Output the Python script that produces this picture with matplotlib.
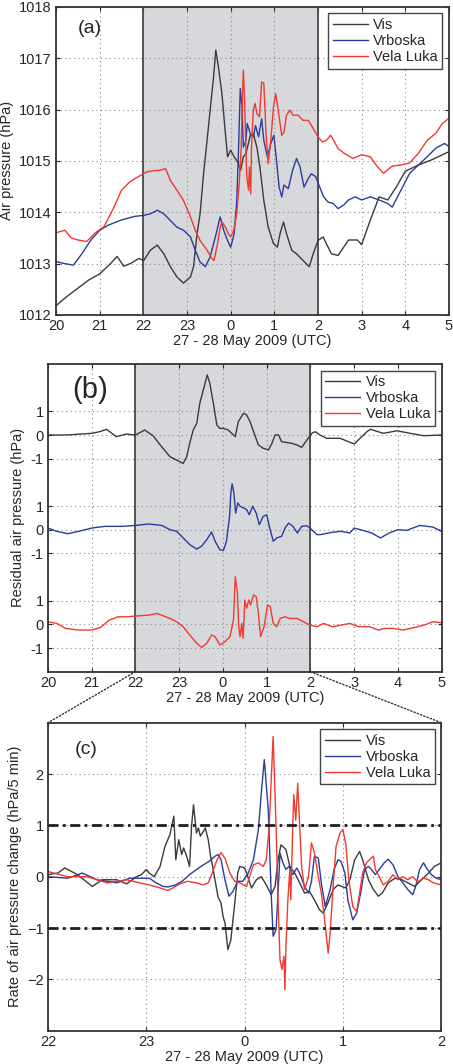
#Presion atmosferica Vis / Vrboska / Vela Luka, 27-28 mayo 2009
import numpy as np
import matplotlib
matplotlib.use('Agg')
import matplotlib.pyplot as plt
from matplotlib.patches import ConnectionPatch

plt.rcParams['font.family'] = ['Liberation Sans', 'DejaVu Sans']
plt.rcParams['font.size'] = 10.5
plt.rcParams['text.color'] = '#262626'
plt.rcParams['axes.labelcolor'] = '#262626'
plt.rcParams['xtick.color'] = '#262626'
plt.rcParams['ytick.color'] = '#262626'

# horas desde las 20 UTC del 27 (24 = 0 UTC del 28)
hour_ticks = [20, 21, 22, 23, 24, 25, 26, 27, 28, 29]
hour_labels = ['20', '21', '22', '23', '0', '1', '2', '3', '4', '5']
zoom_ticks = [22, 23, 24, 25, 26]
zoom_labels = ['22', '23', '0', '1', '2']
stations = ['Vis', 'Vrboska', 'Vela Luka']
colors = ['#3a3a3a', '#2a3c9c', '#f2392f']

# (a) presion (hPa)
vis_a_t = [20.0, 20.25, 20.5, 20.75, 21.0, 21.25, 21.4, 21.55, 21.7, 21.9,
           22.01, 22.16, 22.32, 22.47, 22.62, 22.77, 22.92, 23.08, 23.15, 23.23,
           23.30, 23.34, 23.38, 23.46, 23.53, 23.61, 23.66, 23.72, 23.80, 23.88,
           23.93, 24.0, 24.08, 24.16, 24.23, 24.29, 24.35, 24.45, 24.52, 24.60,
           24.67, 24.76, 24.86, 24.98, 25.07, 25.13, 25.21, 25.28, 25.40, 25.51,
           25.66, 25.80, 25.89, 26.0, 26.12, 26.19, 26.31, 26.46, 26.7, 26.9,
           27.0, 27.2, 27.4, 27.6, 27.8, 28.0, 28.3, 28.6, 29.0]
vis_a = [1012.18, 1012.36, 1012.52, 1012.68, 1012.80, 1013.00, 1013.14, 1012.95, 1013.00, 1013.10,
         1013.06, 1013.26, 1013.36, 1013.19, 1012.94, 1012.74, 1012.62, 1012.74, 1012.94, 1013.58,
         1013.97, 1014.36, 1014.75, 1015.40, 1015.99, 1016.64, 1017.16, 1016.83, 1016.31, 1015.53,
         1015.08, 1015.21, 1015.08, 1014.98, 1014.82, 1015.08, 1015.14, 1015.50, 1015.53, 1015.27,
         1014.88, 1014.23, 1013.71, 1013.39, 1013.32, 1013.58, 1013.81, 1013.58, 1013.26, 1013.19,
         1013.06, 1012.94, 1013.19, 1013.45, 1013.52, 1013.39, 1013.19, 1013.16, 1013.46, 1013.46,
         1013.37, 1013.85, 1014.30, 1014.24, 1014.50, 1014.80, 1014.92, 1015.02, 1015.18]

vrb_a_t = [20.0, 20.2, 20.4, 20.6, 20.8, 21.0, 21.2, 21.5, 21.8,
           22.01, 22.16, 22.32, 22.47, 22.62, 22.77, 22.92, 23.08, 23.19, 23.30,
           23.42, 23.53, 23.65, 23.76, 23.84, 23.93, 24.0, 24.08, 24.14, 24.18,
           24.22, 24.26, 24.29, 24.35, 24.38, 24.45, 24.52, 24.57, 24.64, 24.71,
           24.76, 24.84, 24.92, 24.99, 25.05, 25.11, 25.17, 25.22, 25.32, 25.42,
           25.51, 25.59, 25.68, 25.78, 25.85, 25.95, 26.04, 26.13, 26.23, 26.35,
           26.46, 26.6, 26.7, 26.85, 27.0, 27.2, 27.4, 27.6, 27.7, 27.9,
           28.1, 28.3, 28.5, 28.7, 28.9, 29.0]
vrb_a = [1013.04, 1013.00, 1012.97, 1013.20, 1013.46, 1013.65, 1013.75, 1013.85, 1013.92,
         1013.94, 1013.97, 1014.04, 1013.97, 1013.84, 1013.71, 1013.65, 1013.52, 1013.26, 1013.03,
         1012.94, 1013.13, 1013.52, 1013.91, 1013.65, 1013.45, 1013.32, 1013.58, 1014.23, 1015.21,
         1016.41, 1016.05, 1015.27, 1015.40, 1015.73, 1015.53, 1015.47, 1015.69, 1015.47, 1015.82,
         1015.40, 1015.08, 1015.34, 1015.50, 1015.01, 1014.49, 1014.30, 1014.53, 1014.46, 1014.82,
         1015.05, 1014.88, 1014.49, 1014.66, 1014.75, 1014.69, 1014.49, 1014.30, 1014.20, 1014.17,
         1014.07, 1014.15, 1014.24, 1014.30, 1014.24, 1014.30, 1014.24, 1014.17, 1014.10, 1014.43,
         1014.76, 1014.92, 1015.08, 1015.25, 1015.34, 1015.28]

vel_a_t = [20.0, 20.2, 20.35, 20.5, 20.7, 20.9, 21.1, 21.3, 21.5, 21.7,
           21.94, 22.09, 22.24, 22.39, 22.51, 22.62, 22.77, 22.92, 23.08, 23.19,
           23.30, 23.46, 23.57, 23.62, 23.70, 23.76, 23.80, 23.88, 23.95, 24.0,
           24.07, 24.14, 24.19, 24.24, 24.27, 24.29, 24.32, 24.35, 24.37, 24.41,
           24.43, 24.46, 24.48, 24.52, 24.56, 24.60, 24.66, 24.71, 24.76, 24.81,
           24.86, 24.92, 24.98, 25.03, 25.09, 25.17, 25.22, 25.28, 25.36, 25.43,
           25.55, 25.66, 25.78, 25.89, 26.0, 26.10, 26.19, 26.29, 26.38, 26.46,
           26.6, 26.8, 27.0, 27.2, 27.35, 27.5, 27.7, 27.9, 28.1, 28.3,
           28.5, 28.7, 28.85, 29.0]
vel_a = [1013.60, 1013.65, 1013.50, 1013.46, 1013.43, 1013.60, 1013.72, 1014.05, 1014.43, 1014.60,
         1014.72, 1014.79, 1014.81, 1014.82, 1014.85, 1014.62, 1014.43, 1014.23, 1013.91, 1013.65,
         1013.45, 1013.26, 1013.10, 1013.06, 1013.39, 1013.71, 1013.81, 1013.71, 1013.58, 1013.52,
         1013.65, 1013.97, 1014.49, 1015.21, 1016.25, 1016.77, 1016.18, 1015.21, 1014.69, 1014.43,
         1014.88, 1014.36, 1015.34, 1015.99, 1016.12, 1015.92, 1015.86, 1016.54, 1016.51, 1015.53,
         1014.95, 1015.40, 1016.05, 1016.31, 1015.99, 1015.50, 1015.56, 1015.89, 1015.99, 1015.89,
         1015.89, 1015.79, 1015.79, 1015.63, 1015.47, 1015.37, 1015.40, 1015.50, 1015.37, 1015.24,
         1015.15, 1015.05, 1015.12, 1015.08, 1014.90, 1014.76, 1014.90, 1014.92, 1014.96, 1015.15,
         1015.40, 1015.54, 1015.73, 1015.83]

# (b) presion residual (hPa)
vis_b_t = [20.0, 20.42, 21.0, 21.18, 21.34, 21.56, 21.79, 22.0, 22.21, 22.40,
           22.6, 22.79, 22.94, 23.09, 23.17, 23.24, 23.32, 23.40, 23.47, 23.55,
           23.64, 23.70, 23.78, 23.86, 23.93, 24.01, 24.12, 24.20, 24.28, 24.35,
           24.47, 24.54, 24.62, 24.70, 24.81, 24.92, 25.04, 25.12, 25.19, 25.27,
           25.34, 25.46, 25.57, 25.69, 25.80, 25.92, 26.03, 26.11, 26.22, 26.37,
           26.68, 27.0, 27.29, 27.37, 27.67, 27.98, 28.28, 28.59, 29.0]
vis_b = [0.0, 0.0, 0.07, 0.14, 0.24, -0.07, 0.04, 0.0, 0.21, -0.03,
         -0.5, -0.92, -1.06, -1.2, -0.92, -0.35, 0.21, 0.49, 1.34, 1.9,
         2.54, 2.18, 1.34, 0.42, 0.28, 0.28, 0.21, 0.07, -0.07, 0.56,
         0.92, 0.85, 0.56, 0.14, -0.42, -0.56, -0.63, -0.35, 0.0, 0.0,
         -0.28, -0.32, -0.35, -0.42, -0.52, -0.21, 0.07, 0.14, 0.0, -0.14,
         -0.14, -0.38, 0.14, 0.24, 0.07, 0.18, 0.07, -0.03, 0.0]

vrb_b_t = [20.0, 20.2, 20.45, 20.7, 21.0, 21.3, 21.7, 22.0, 22.3, 22.6,
           22.79, 22.94, 23.09, 23.24, 23.40, 23.51, 23.63, 23.74, 23.82, 23.93,
           24.01, 24.08, 24.15, 24.18, 24.21, 24.25, 24.29, 24.34, 24.39, 24.47,
           24.54, 24.60, 24.68, 24.76, 24.83, 24.92, 25.0, 25.06, 25.15, 25.23,
           25.34, 25.42, 25.50, 25.60, 25.70, 25.80, 25.92, 26.03, 26.15, 26.22,
           26.3, 26.5, 26.7, 26.9, 27.0, 27.2, 27.4, 27.6, 27.8, 28.0,
           28.2, 28.5, 28.8, 29.0]
vrb_b = [0.07, -0.07, -0.17, -0.07, 0.07, 0.14, 0.14, 0.18, 0.24, 0.18,
         0.0, -0.07, -0.35, -0.63, -0.82, -0.7, -0.42, -0.1, -0.49, -0.85,
         -0.87, -0.49, 0.56, 1.55, 1.94, 1.55, 0.7, 1.13, 0.99, 0.92,
         0.85, 0.63, 0.99, 0.7, 0.21, 0.56, 0.63, 0.14, -0.49, -0.35,
         -0.28, 0.07, 0.28, 0.14, -0.14, 0.14, 0.17, 0.0, -0.21, -0.21,
         -0.18, -0.11, -0.07, -0.14, 0.07, -0.03, -0.14, -0.35, -0.14, 0.0,
         -0.03, 0.18, 0.11, -0.07]

vel_b_t = [20.0, 20.2, 20.4, 20.7, 21.0, 21.2, 21.4, 21.6, 21.8, 22.0,
           22.3, 22.5, 22.65, 22.79, 22.94, 23.09, 23.24, 23.40, 23.51, 23.63,
           23.74, 23.82, 23.93, 24.05, 24.16, 24.24, 24.28, 24.33, 24.36, 24.39,
           24.43, 24.46, 24.50, 24.54, 24.59, 24.63, 24.70, 24.76, 24.81, 24.86,
           24.94, 25.02, 25.08, 25.15, 25.23, 25.31, 25.42, 25.53, 25.69, 25.84,
           25.99, 26.15, 26.3, 26.5, 26.7, 26.9, 27.1, 27.35, 27.55, 27.7,
           27.9, 28.1, 28.3, 28.6, 28.8, 29.0]
vel_b = [0.11, 0.04, -0.17, -0.24, -0.24, -0.13, 0.18, 0.32, 0.32, 0.35,
         0.39, 0.46, 0.35, 0.25, 0.11, -0.1, -0.45, -0.8, -0.97, -0.8,
         -0.45, -0.52, -0.87, -0.73, -0.52, 0.18, 2.01, 1.31, -0.1, -0.52,
         0.04, -0.59, 1.03, 0.68, 1.03, 0.82, 1.24, 1.17, 0.46, -0.52,
         -0.1, 0.82, 0.75, 0.04, -0.1, 0.25, 0.32, 0.25, 0.25, 0.11,
         -0.03, -0.1, 0.04, -0.1, -0.03, 0.04, -0.1, -0.1, -0.24, -0.17,
         -0.17, -0.24, -0.17, -0.03, 0.11, 0.07]
offsets_b = [8, 4, 0]

# (c) tasa de cambio (hPa/5 min)
vis_c_t = [22.0, 22.1, 22.17, 22.3, 22.45, 22.55, 22.7, 22.8, 22.9, 22.95,
           23.0, 23.03, 23.08, 23.14, 23.19, 23.24, 23.28, 23.30, 23.33, 23.36,
           23.38, 23.41, 23.44, 23.46, 23.48, 23.51, 23.53, 23.55, 23.58, 23.60,
           23.63, 23.65, 23.68, 23.73, 23.76, 23.78, 23.80, 23.83, 23.86, 23.90,
           23.93, 23.95, 24.0, 24.02, 24.07, 24.12, 24.17, 24.22, 24.27, 24.31,
           24.34, 24.37, 24.42, 24.46, 24.51, 24.56, 24.61, 24.66, 24.71, 24.76,
           24.80, 24.85, 24.90, 24.95, 25.0, 25.03, 25.07, 25.12, 25.17, 25.20,
           25.26, 25.31, 25.36, 25.40, 25.46, 25.53, 25.60, 25.66, 25.73, 25.80,
           25.87, 25.93, 26.0]
vis_c = [0.04, 0.07, 0.17, 0.04, -0.19, -0.06, -0.06, -0.14, 0.0, 0.04,
         0.14, 0.07, 0.0, 0.2, 0.59, 0.82, 1.18, 0.33, 0.72, 0.43,
         0.56, 0.4, 0.2, 0.98, 1.4, 0.85, 0.95, 0.79, 0.88, 0.95,
         0.72, 0.45, 0.14, -0.4, -0.51, -0.77, -0.9, -1.42, -1.23, -0.51,
         0.07, 0.2, 0.17, 0.07, -0.22, -0.06, 0.0, -0.16, -0.35, -0.19,
         0.33, 0.62, 0.53, 0.2, 0.07, -0.12, -0.32, -0.29, -0.45, -0.64,
         -0.71, -0.5, -0.25, -0.16, -0.2, -0.22, -0.06, 0.33, 0.49, 0.33,
         -0.06, -0.25, -0.38, -0.32, -0.12, -0.03, -0.06, -0.12, -0.19, -0.06,
         0.07, 0.2, 0.27]

vrb_c_t = [22.0, 22.2, 22.35, 22.5, 22.7, 22.83, 22.93, 23.03, 23.10, 23.17,
           23.22, 23.30, 23.37, 23.44, 23.51, 23.58, 23.64, 23.70, 23.73, 23.76,
           23.80, 23.84, 23.88, 23.93, 23.98, 24.03, 24.09, 24.14, 24.17, 24.20,
           24.24, 24.27, 24.29, 24.32, 24.34, 24.36, 24.39, 24.42, 24.45, 24.49,
           24.53, 24.56, 24.61, 24.65, 24.68, 24.71, 24.75, 24.78, 24.82, 24.87,
           24.91, 24.95, 24.98, 25.02, 25.05, 25.10, 25.14, 25.18, 25.22, 25.26,
           25.29, 25.33, 25.37, 25.42, 25.46, 25.51, 25.56, 25.61, 25.66, 25.71,
           25.74, 25.78, 25.82, 25.85, 25.90, 25.95, 26.0]
vrb_c = [0.0, -0.03, 0.07, -0.06, -0.12, -0.03, -0.03, -0.03, -0.12, -0.19,
         -0.2, -0.16, -0.08, 0.04, 0.14, 0.23, 0.3, 0.4, 0.43, 0.33,
         -0.06, -0.38, -0.29, -0.09, -0.09, 0.04, 0.33, 0.92, 1.63, 2.28,
         1.31, -0.32, -1.16, -1.03, -0.32, 0.46, 0.27, 0.14, 0.2, 0.04,
         0.17, 0.07, -0.19, -0.32, -0.09, 0.4, 0.36, -0.12, -0.58, -0.25,
         0.14, 0.33, 0.3, 0.07, -0.45, -0.84, -0.71, -0.32, 0.14, 0.2,
         0.14, 0.04, 0.14, 0.27, 0.34, 0.23, 0.0, -0.12, -0.25, -0.35,
         -0.19, 0.14, 0.27, 0.17, 0.04, -0.03, -0.06]

vel_c_t = [22.0, 22.2, 22.4, 22.6, 22.8, 22.93, 23.03, 23.14, 23.22, 23.27,
           23.34, 23.42, 23.51, 23.58, 23.63, 23.67, 23.72, 23.76, 23.80, 23.85,
           23.90, 23.95, 24.02, 24.05, 24.09, 24.14, 24.19, 24.22, 24.25, 24.29,
           24.32, 24.34, 24.36, 24.38, 24.40, 24.41, 24.42, 24.44, 24.46, 24.47,
           24.49, 24.50, 24.52, 24.54, 24.56, 24.58, 24.61, 24.65, 24.68, 24.71,
           24.75, 24.78, 24.81, 24.85, 24.87, 24.90, 24.93, 24.97, 25.0, 25.03,
           25.06, 25.10, 25.14, 25.17, 25.20, 25.24, 25.27, 25.31, 25.33, 25.37,
           25.41, 25.46, 25.51, 25.56, 25.61, 25.66, 25.71, 25.76, 25.82, 25.87,
           25.92, 26.0]
vel_c = [0.1, 0.0, 0.0, -0.12, -0.06, -0.12, -0.16, -0.22, -0.27, -0.22,
         -0.14, -0.09, -0.12, -0.16, -0.12, 0.07, 0.33, 0.47, 0.36, 0.07,
         -0.09, -0.12, -0.19, 0.0, 0.23, 0.27, 0.2, 0.33, 0.98, 2.73,
         0.98, -0.45, -1.62, -1.81, -1.55, -2.2, -1.36, -0.45, 0.14, -0.45,
         0.98, 1.6, 1.1, 1.82, 0.98, 0.2, -0.25, 0.0, 0.66, 0.47,
         0.0, -0.32, -0.77, -1.49, -1.1, -0.19, 0.59, 0.85, 0.92, 0.62,
         -0.06, -0.58, -0.68, -0.32, 0.07, 0.27, 0.33, 0.4, 0.14, 0.0,
         -0.16, -0.09, 0.04, -0.06, 0.0, -0.06, 0.0, -0.1, -0.03, -0.06,
         -0.12, -0.16]
threshold = [1, -1]

shade = [22, 26]
xlabel = '27 - 28 May 2009 (UTC)'

fig = plt.figure(figsize=(4.53, 10.64), dpi=100)
axa = fig.add_axes([0.1236, 0.7040, 0.8675, 0.2895])
axb = fig.add_axes([0.1060, 0.3687, 0.8690, 0.2892])
axc = fig.add_axes([0.1060, 0.0313, 0.8680, 0.2895])


def style(ax):
    #estilo tipo matlab
    ax.set_axisbelow(True)
    ax.grid(True, linestyle=(0, (1, 3)), color='#8a8a8a', linewidth=0.8)
    ax.tick_params(direction='in', top=True, right=True, length=3, width=0.8,
                   pad=3, labelsize=10.5)
    for s in ax.spines.values():
        s.set_color('#333333')
        s.set_linewidth(1.3)
    ax.set_xlabel(xlabel, labelpad=1)


def shading(ax):
    ax.axvspan(shade[0], shade[1], facecolor='#d7d8db', edgecolor='none', zorder=0)
    for x in shade:
        ax.axvline(x, color='#4a4a4a', linewidth=1.3, zorder=1)


def legend(ax):
    lg = ax.legend(loc='upper right', fancybox=False, framealpha=1, edgecolor='#444444',
                   handlelength=2.4, labelspacing=0.15, borderpad=0.3,
                   borderaxespad=0.45, handletextpad=0.4, fontsize=10.5)
    lg.get_frame().set_linewidth(1.0)


#panel (a)
shading(axa)
for t, v, name, c in zip([vis_a_t, vrb_a_t, vel_a_t], [vis_a, vrb_a, vel_a], stations, colors):
    axa.plot(t, v, color=c, linewidth=1.0, label=name)
axa.set_xlim(20, 29)
axa.set_ylim(1012, 1018)
axa.set_xticks(hour_ticks)
axa.set_xticklabels(hour_labels)
axa.set_yticks(np.arange(1012, 1019, 1))
axa.set_ylabel('Air pressure (hPa)')
style(axa)
legend(axa)
axa.text(0.087, 0.93, '(a)', transform=axa.transAxes, fontsize=14, ha='center', va='center')

#panel (b) series desplazadas
shading(axb)
for t, v, name, c, off in zip([vis_b_t, vrb_b_t, vel_b_t], [vis_b, vrb_b, vel_b],
                              stations, colors, offsets_b):
    axb.plot(t, np.array(v) + off, color=c, linewidth=1.0, label=name)
axb.set_xlim(20, 29)
axb.set_ylim(-2, 11)
axb.set_xticks(hour_ticks)
axb.set_xticklabels(hour_labels)
yt = []
for off in offsets_b[::-1]:
    yt += [off - 1, off, off + 1]
axb.set_yticks(yt)
axb.set_yticklabels(['-1', '0', '1'] * 3)
axb.set_ylabel('Residual air pressure (hPa)')
style(axb)
legend(axb)
axb.text(0.107, 0.916, '(b)', transform=axb.transAxes, fontsize=21, ha='center', va='center')

#panel (c)
for t, v, name, c in zip([vis_c_t, vrb_c_t, vel_c_t], [vis_c, vrb_c, vel_c], stations, colors):
    axc.plot(t, v, color=c, linewidth=1.0, label=name)
for y in threshold:
    axc.axhline(y, color='#1e1e1e', linewidth=2.0, linestyle=(0, (3.6, 1.6, 1.0, 1.6)), zorder=3)
axc.set_xlim(22, 26)
axc.set_ylim(-3, 3)
axc.set_xticks(zoom_ticks)
axc.set_xticklabels(zoom_labels)
axc.set_yticks([-2, -1, 0, 1, 2])
axc.set_ylabel('Rate of air pressure change (hPa/5 min)')
style(axc)
legend(axc)
axc.text(0.098, 0.912, '(c)', transform=axc.transAxes, fontsize=14, ha='center', va='center')

#lineas de zoom entre (b) y (c)
for xb, xc in zip(shade, [0, 1]):
    con = ConnectionPatch(xyA=(xb, -2), coordsA='data', axesA=axb,
                          xyB=(xc, 1), coordsB='axes fraction', axesB=axc,
                          linestyle=(0, (1, 1.5)), color='#333333', linewidth=1.0)
    fig.add_artist(con)

fig.savefig('out.png', dpi=100)
